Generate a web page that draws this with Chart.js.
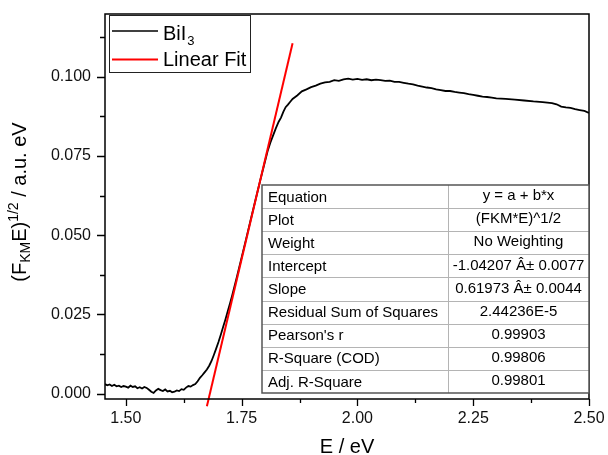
<!DOCTYPE html>
<html><head><meta charset="utf-8">
<script src="https://cdn.jsdelivr.net/npm/chart.js@4.4.1/dist/chart.umd.min.js"></script>
<style>html,body{margin:0;padding:0;background:#fff;}#wrap{width:608px;height:455px;}</style>
</head><body><div id="wrap"><canvas id="c" width="608" height="455"></canvas></div>
<script>
// ---------- data ----------
const energy = [1.455,1.460,1.465,1.470,1.475,1.480,1.485,1.490,1.495,1.500,1.505,1.510,1.515,1.520,1.525,1.530,1.535,1.540,1.545,1.550,1.555,1.560,1.565,1.570,1.575,1.580,1.585,1.590,1.595,1.600,1.605,1.610,1.615,1.620,1.625,1.630,1.635,1.640,1.645,1.650,1.655,1.660,1.665,1.670,1.675,1.680,1.685,1.690,1.695,1.700,1.705,1.710,1.715,1.720,1.725,1.730,1.740,1.750,1.760,1.770,1.780,1.790,1.800,1.806,1.812,1.818,1.824,1.830,1.835,1.840,1.845,1.850,1.855,1.860,1.870,1.880,1.890,1.900,1.910,1.920,1.930,1.940,1.950,1.960,1.970,1.980,1.990,2.000,2.010,2.020,2.030,2.040,2.050,2.060,2.070,2.080,2.090,2.100,2.110,2.120,2.130,2.140,2.150,2.160,2.170,2.180,2.190,2.200,2.210,2.220,2.230,2.240,2.250,2.260,2.270,2.280,2.290,2.300,2.320,2.340,2.360,2.380,2.400,2.420,2.430,2.440,2.450,2.460,2.470,2.480,2.490,2.500];
const signal = [0.0030,0.0026,0.0029,0.0024,0.0028,0.0023,0.0025,0.0021,0.0024,0.0022,0.0019,0.0025,0.0021,0.0023,0.0017,0.0020,0.0016,0.0021,0.0018,0.0012,0.0006,0.0002,0.0010,0.0015,0.0011,0.0008,0.0013,0.0007,0.0009,0.0004,0.0006,0.0010,0.0008,0.0014,0.0012,0.0019,0.0024,0.0022,0.0027,0.0030,0.0039,0.0050,0.0058,0.0067,0.0076,0.0088,0.0103,0.0122,0.0142,0.0163,0.0186,0.0210,0.0234,0.0260,0.0285,0.0312,0.0370,0.0430,0.0490,0.0551,0.0612,0.0672,0.0730,0.0765,0.0792,0.0815,0.0838,0.0858,0.0871,0.0889,0.0904,0.0912,0.0921,0.0930,0.0941,0.0954,0.0960,0.0967,0.0972,0.0978,0.0982,0.0984,0.0989,0.0987,0.0992,0.0994,0.0991,0.0993,0.0990,0.0992,0.0989,0.0991,0.0989,0.0987,0.0988,0.0984,0.0984,0.0981,0.0978,0.0976,0.0972,0.0969,0.0966,0.0964,0.0960,0.0958,0.0955,0.0955,0.0952,0.0950,0.0948,0.0945,0.0943,0.0940,0.0937,0.0936,0.0934,0.0932,0.0930,0.0928,0.0925,0.0922,0.0920,0.0917,0.0913,0.0906,0.0903,0.0902,0.0898,0.0895,0.0892,0.0886];
const fitEnergy = [1.675, 1.860];
const fitSignal = [-0.0040, 0.1106];
const xMajorTicks = [1.50, 1.75, 2.00, 2.25, 2.50];
const xMinorTicks = [1.625, 1.875, 2.125, 2.375];
const yMajorTicks = [0.000, 0.025, 0.050, 0.075, 0.100];
const yMinorTicks = [0.0125, 0.0375, 0.0625, 0.0875, 0.1125];
const seriesNames = ['BiI', 'Linear Fit'];
const tableLabels = ['Equation','Plot','Weight','Intercept','Slope','Residual Sum of Squares',"Pearson's r",'R-Square (COD)','Adj. R-Square'];
const tableValues = ['y = a + b*x','(FKM*E)^1/2','No Weighting','-1.04207 \u00C2\u00B1 0.0077','0.61973 \u00C2\u00B1 0.0044','2.44236E-5','0.99903','0.99806','0.99801'];

const FONT = "'Liberation Sans', Arial, sans-serif";

function tickBuilder(majors, minors){
  return function(scale){
    const t = majors.map(v=>({value:v,isMajor:true})).concat(minors.map(v=>({value:v,isMajor:false})));
    t.sort((a,b)=>a.value-b.value);
    scale.ticks = t;
  };
}

const framePlugin = {
  id:'frame',
  afterDatasetsDraw(chart){
    const {ctx, chartArea:a, scales:{x,y}} = chart;
    ctx.save();
    ctx.strokeStyle='#000';
    ctx.lineWidth=1.5;
    ctx.strokeRect(a.left, a.top, a.right-a.left, a.bottom-a.top);
    ctx.lineWidth=1.3;
    ctx.beginPath();
    x.ticks.forEach(t=>{
      const px = Math.round(x.getPixelForValue(t.value))+0.5;
      ctx.moveTo(px, a.bottom); ctx.lineTo(px, a.bottom + (t.isMajor?7:4));
    });
    y.ticks.forEach(t=>{
      const py = Math.round(y.getPixelForValue(t.value))+0.5;
      ctx.moveTo(a.left, py); ctx.lineTo(a.left - (t.isMajor?8:5), py);
    });
    ctx.stroke();
    ctx.restore();
  },
  afterDraw(chart){
    const {ctx, chartArea:a} = chart;
    ctx.save();
    ctx.fillStyle='#000';
    ctx.font = '20px '+FONT;
    ctx.textAlign='center'; ctx.textBaseline='alphabetic';
    ctx.fillText('E / eV', (a.left+a.right)/2, 453);
    const parts = [
      {t:'(F', s:20, dy:0},
      {t:'KM', s:14, dy:4},
      {t:'E)', s:20, dy:0},
      {t:'1/2', s:14, dy:-8},
      {t:' / a.u. eV', s:20, dy:0}
    ];
    let total = 0;
    parts.forEach(p=>{ctx.font=p.s+'px '+FONT; p.w=ctx.measureText(p.t).width; total+=p.w;});
    ctx.translate(26, 202);
    ctx.rotate(-Math.PI/2);
    ctx.textAlign='left';
    let cx = -total/2;
    parts.forEach(p=>{ctx.font=p.s+'px '+FONT; ctx.fillText(p.t, cx, p.dy); cx+=p.w;});
    ctx.restore();

    // legend
    ctx.save();
    ctx.fillStyle='#fff';
    ctx.fillRect(109.5,15.5,141,57);
    ctx.strokeStyle='#222'; ctx.lineWidth=1;
    ctx.strokeRect(109.5,15.5,141,57);
    ctx.lineWidth=1.6; ctx.strokeStyle='#000';
    ctx.beginPath(); ctx.moveTo(112,31); ctx.lineTo(158,31); ctx.stroke();
    ctx.lineWidth=2; ctx.strokeStyle='#ff0000';
    ctx.beginPath(); ctx.moveTo(112,59.5); ctx.lineTo(158,59.5); ctx.stroke();
    ctx.fillStyle='#000'; ctx.textAlign='left'; ctx.textBaseline='alphabetic';
    ctx.font='20px '+FONT;
    ctx.fillText(seriesNames[0],163,40);
    const w0 = ctx.measureText(seriesNames[0]).width;
    ctx.font='13px '+FONT;
    ctx.fillText('3',163+w0+1,45);
    ctx.font='20px '+FONT;
    ctx.fillText(seriesNames[1],163,66);
    ctx.restore();

    // table
    ctx.save();
    const L=262, T=185, R=a.right, B=393, C=448;
    const rh=(B-T)/tableLabels.length;
    ctx.fillStyle='#fff'; ctx.fillRect(L,T,R-L,B-T);
    ctx.strokeStyle='#b4b4b4'; ctx.lineWidth=1;
    ctx.beginPath();
    for(let i=1;i<tableLabels.length;i++){
      const yy=Math.round(T+i*rh)+0.5; ctx.moveTo(L,yy); ctx.lineTo(R,yy);
    }
    ctx.moveTo(C+0.5,T); ctx.lineTo(C+0.5,B);
    ctx.stroke();
    ctx.strokeStyle='#555'; ctx.lineWidth=1.5;
    ctx.strokeRect(L,T,R-L,B-T);
    ctx.fillStyle='#000'; ctx.font='15px '+FONT; ctx.textBaseline='middle';
    tableLabels.forEach((lab,i)=>{
      const cy=T+(i+0.5)*rh+1;
      ctx.textAlign='left'; ctx.fillText(lab, L+6, cy);
      ctx.textAlign='center'; ctx.fillText(tableValues[i], (C+R)/2, cy-1.5);
    });
    ctx.restore();
  }
};

new Chart(document.getElementById('c'), {
  type:'line',
  data:{
    datasets:[
      {label:'BiI3', data: energy.map((e,i)=>({x:e,y:signal[i]})), borderColor:'#000', borderWidth:1.8, pointRadius:0, tension:0, order:2},
      {label:'Linear Fit', data: fitEnergy.map((e,i)=>({x:e,y:fitSignal[i]})), borderColor:'#ff0000', borderWidth:2, pointRadius:0, tension:0, clip:false, order:1}
    ]
  },
  options:{
    responsive:false, animation:false, devicePixelRatio:1,
    layout:{padding:{left:0,right:19,top:14,bottom:0}},
    plugins:{legend:{display:false}, tooltip:{enabled:false}},
    scales:{
      x:{type:'linear', min:1.455, max:2.5,
        grid:{display:false, drawTicks:false}, border:{display:false},
        afterBuildTicks: tickBuilder(xMajorTicks, xMinorTicks),
        afterFit(s){ s.height = 56; s.paddingLeft = 0; s.paddingRight = 0; },
        ticks:{padding:10, autoSkip:false, maxRotation:0, minRotation:0, color:'#111', font:{family:FONT, size:16},
          callback:(v,i,t)=> t[i].isMajor ? Number(v).toFixed(2) : ''}
      },
      y:{type:'linear', min:-0.0017, max:0.1198,
        grid:{display:false, drawTicks:false}, border:{display:false},
        afterBuildTicks: tickBuilder(yMajorTicks, yMinorTicks),
        afterFit(s){ s.width = 105; s.paddingTop = 0; s.paddingBottom = 0; },
        ticks:{padding:14, autoSkip:false, color:'#111', font:{family:FONT, size:16},
          callback:(v,i,t)=> t[i].isMajor ? Number(v).toFixed(3) : ''}
      }
    }
  },
  plugins:[framePlugin]
});
</script>
</body></html>
